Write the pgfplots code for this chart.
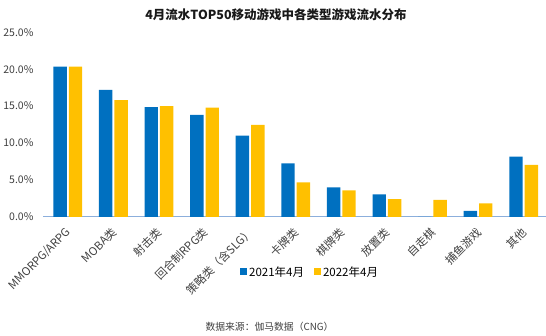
\documentclass[border=0pt]{standalone}
\usepackage{fontspec}
\setmainfont{Noto Sans CJK SC}
\usepackage{pgfplots}
\pgfplotsset{compat=1.18}
\definecolor{cblue}{RGB}{0,112,192}
\definecolor{cyellow}{RGB}{255,192,0}
\definecolor{cbase}{RGB}{140,175,220}
\definecolor{ctxt}{RGB}{64,64,64}
\begin{document}
\begin{tikzpicture}
\useasboundingbox (0pt,0pt) rectangle (546pt,336pt);
\begin{axis}[
  at={(43pt,119.1pt)}, anchor=south west,
  scale only axis, width=503pt, height=184.6pt,
  xmin=-0.544, xmax=10.49, ymin=0, ymax=25,
  enlargelimits=false,
  ybar=2pt, bar width=13.4pt,
  axis x line*=bottom, axis y line*=left,
  x axis line style={draw=cbase, line width=0.8pt},
  y axis line style={draw=none},
  major tick length=0pt,
  xtick={0,...,10},
  xticklabels={MMORPG/ARPG,MOBA类,射击类,回合制RPG类,策略类（含SLG）,卡牌类,棋牌类,放置类,自走棋,捕鱼游戏,其他},
  xticklabel style={rotate=45, anchor=east, font=\fontsize{11.3}{13}\selectfont, text=ctxt, inner sep=1pt, xshift=-7.5pt, yshift=-10pt},
  ytick={0,5,10,15,20,25},
  yticklabel={\pgfmathprintnumber[fixed,fixed zerofill,precision=1]{\tick}\%},
  yticklabel style={font=\fontsize{10.5}{12}\selectfont, text=ctxt, xshift=-6pt},
  /pgf/number format/assume math mode=true,
  legend style={at={(rel axis cs:0.531,-0.2985)}, anchor=center, draw=none, fill=none,
    legend columns=2, font=\fontsize{11.5}{13}\selectfont,
    /tikz/every even column/.append style={column sep=8pt}},
  legend image code/.code={\fill[#1] (0pt,-3.5pt) rectangle (7pt,3.5pt);},
]
\addplot[fill=cblue, draw=none] coordinates {
(0,20.35) (1,17.2) (2,14.85) (3,13.8) (4,11.0) (5,7.26) (6,4.0) (7,3.06) (8,0) (9,0.8) (10,8.15)};
\addlegendentry{2021年4月}
\addplot[fill=cyellow, draw=none] coordinates {
(0,20.35) (1,15.8) (2,15.0) (3,14.8) (4,12.45) (5,4.69) (6,3.6) (7,2.4) (8,2.3) (9,1.84) (10,7.03)};
\addlegendentry{2022年4月}
\end{axis}
\node[font=\bfseries\fontsize{12.5}{14}\selectfont, text=black!90] at (276pt,321pt) {4月流水TOP50移动游戏中各类型游戏流水分布};
\node[font=\fontsize{9.8}{12}\selectfont, text=ctxt] at (269.5pt,9.3pt) {数据来源：伽马数据（CNG）};
\end{tikzpicture}
\end{document}
